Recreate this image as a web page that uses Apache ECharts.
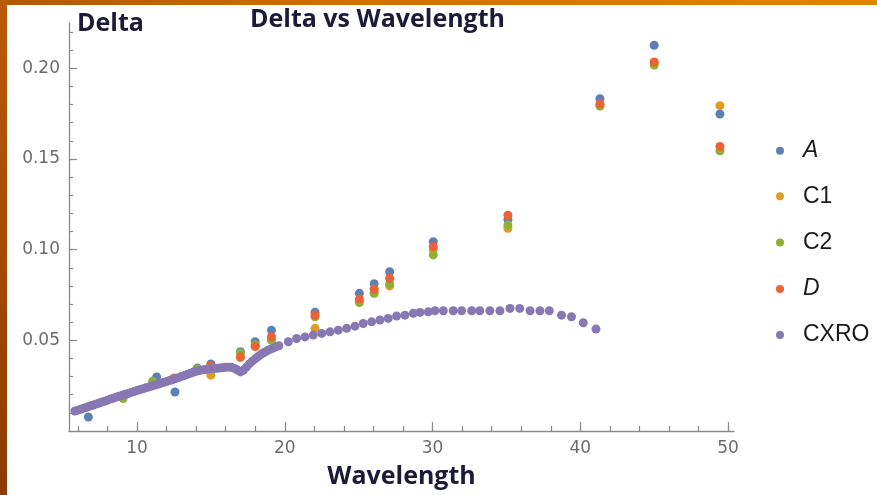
<!DOCTYPE html>
<html>
<head>
<meta charset="utf-8">
<title>Delta vs Wavelength</title>
<script src="https://cdn.jsdelivr.net/npm/echarts@6/dist/echarts.min.js"></script>
<style>
  html, body { margin: 0; padding: 0; background: #ffffff; overflow: hidden; }
  #chart { position: absolute; left: 0; top: 0; width: 877px; height: 495px; }
  .frame-top { position: absolute; left: 0; top: 0; width: 877px; height: 5px;
    background: linear-gradient(90deg, #b25806 0%, #cf7000 40%, #e28400 100%); }
  .frame-left { position: absolute; left: 0; top: 0; width: 7px; height: 495px;
    background: linear-gradient(180deg, #b85c08 0%, #a54b05 50%, #8c3b02 100%); }
</style>
</head>
<body>
<div id="chart"></div>
<div class="frame-top"></div>
<div class="frame-left"></div>
<script>
// Measured delta values per model, with their wavelengths
const aX  = [6.71, 11.33, 12.57, 14.08, 15.0, 17.0, 18.0, 19.1, 22.05, 25.05, 26.05, 27.1, 30.05, 35.1, 41.33, 45.0, 49.45];
const aY  = [0.0077, 0.0298, 0.0215, 0.0347, 0.0370, 0.0437, 0.0492, 0.0556, 0.0655, 0.0759, 0.0812, 0.0878, 0.1044, 0.1166, 0.1832, 0.2127, 0.1748];

const c1X = [12.5, 15.0, 17.0, 18.0, 19.1, 22.05, 25.05, 26.05, 27.1, 30.05, 35.1, 41.33, 45.0, 49.45];
const c1Y = [0.0292, 0.0308, 0.0405, 0.0470, 0.0505, 0.0566, 0.0715, 0.0762, 0.0800, 0.0998, 0.1118, 0.1798, 0.2030, 0.1794];

const c2X = [9.07, 11.06, 14.05, 15.0, 17.0, 18.0, 19.1, 22.05, 25.05, 26.05, 27.1, 30.05, 35.1, 41.33, 45.0, 49.45];
const c2Y = [0.0179, 0.0275, 0.0343, 0.0355, 0.0430, 0.0475, 0.0500, 0.0630, 0.0708, 0.0759, 0.0812, 0.0971, 0.1136, 0.1792, 0.2018, 0.1545];

const dX  = [12.5, 15.0, 17.0, 18.0, 19.1, 22.05, 25.05, 26.05, 27.1, 30.05, 35.1, 41.33, 45.0, 49.45];
const dY  = [0.0288, 0.0360, 0.0409, 0.0465, 0.0520, 0.0640, 0.0728, 0.0782, 0.0842, 0.1017, 0.1190, 0.1803, 0.2035, 0.1569];

// CXRO tabulated delta (fine steps below 20, coarser above)
const cxroX = [5.8, 6.0, 6.2, 6.4, 6.6, 6.8, 7.0, 7.2, 7.4, 7.6, 7.8, 8.0, 8.2, 8.4, 8.6, 8.8, 9.0, 9.2, 9.4, 9.6,
  9.8, 10.0, 10.2, 10.4, 10.6, 10.8, 11.0, 11.2, 11.4, 11.6, 11.8, 12.0, 12.2, 12.4, 12.6, 12.8, 13.0, 13.2, 13.4,
  13.6, 13.8, 14.0, 14.2, 14.4, 14.6, 14.8, 15.0, 15.2, 15.4, 15.6, 15.8, 16.0, 16.2, 16.4, 16.6, 16.8, 17.0, 17.2,
  17.4, 17.6, 17.8, 18.0, 18.2, 18.4, 18.6, 18.8, 19.0, 19.2, 19.4, 19.6,
  20.24, 20.8, 21.37, 21.93, 22.5, 23.06, 23.62, 24.19, 24.75, 25.31, 25.88, 26.44, 27.0,
  27.57, 28.13, 28.7, 29.15, 29.71, 30.16, 30.73, 31.4, 31.97, 32.65, 33.2, 33.88, 34.56, 35.24, 35.9, 36.6,
  37.27, 37.9, 38.73, 39.4, 40.2, 41.06];
const cxroY = [0.0110, 0.0115, 0.0120, 0.0126, 0.0131, 0.0137, 0.0142, 0.0148, 0.0153, 0.0159, 0.0164, 0.0170,
  0.0176, 0.0181, 0.0187, 0.0192, 0.0197, 0.0202, 0.0207, 0.0213, 0.0218, 0.0223, 0.0228, 0.0233, 0.0238, 0.0243,
  0.0248, 0.0253, 0.0258, 0.0263, 0.0268, 0.0273, 0.0278, 0.0283, 0.0289, 0.0294, 0.0300, 0.0306, 0.0312, 0.0318,
  0.0324, 0.0329, 0.0333, 0.0336, 0.0339, 0.0341, 0.0343, 0.0345, 0.0346, 0.0348, 0.0349, 0.0351, 0.0352, 0.0351,
  0.0345, 0.0336, 0.0326, 0.0335, 0.0352, 0.0370, 0.0385, 0.0398, 0.0411, 0.0423, 0.0433, 0.0442, 0.0450, 0.0457,
  0.0464, 0.0470,
  0.0492, 0.0510, 0.0519, 0.0529, 0.0538, 0.0547, 0.0556, 0.0566, 0.0578, 0.0593, 0.0602, 0.0612, 0.0621, 0.0634,
  0.0639, 0.0649, 0.0654, 0.0657, 0.0663, 0.0663, 0.0663, 0.0663, 0.0663, 0.0663, 0.0663, 0.0663, 0.0676, 0.0676,
  0.0663, 0.0663, 0.0663, 0.0639, 0.0630, 0.0597, 0.0562];

// Tick positions
const xMinorTicks = [6, 8, 10, 12, 14, 16, 18, 20, 22, 24, 26, 28, 30, 32, 34, 36, 38, 40, 42, 44, 46, 48, 50];
const xMajorTicks = [10, 20, 30, 40, 50];
const yMinorTicks = [0.01, 0.02, 0.03, 0.04, 0.05, 0.06, 0.07, 0.08, 0.09, 0.10, 0.11,
  0.12, 0.13, 0.14, 0.15, 0.16, 0.17, 0.18, 0.19, 0.20, 0.21, 0.22];
const yMajorTicks = [0.05, 0.10, 0.15, 0.20];

const seriesNames = ['A', 'C1', 'C2', 'D', 'CXRO'];
const seriesColors = ['#5E81B5', '#E19C24', '#8FB032', '#EB6235', '#8778B3'];
const italicNames = ['A', 'D'];

const pairs = (xs, ys) => xs.map((x, i) => [x, ys[i]]);
const seriesData = [pairs(aX, aY), pairs(c1X, c1Y), pairs(c2X, c2Y), pairs(dX, dY), pairs(cxroX, cxroY)];

const AXIS_COLOR = '#8a8a8a';
const TICK_FONT = { fontFamily: 'DejaVu Sans', fontSize: 17, color: '#6c6c6c' };
const HEAD_FONT = { fontFamily: 'Open Sans', fontWeight: 'bold', fontSize: 25, color: '#1b1b38' };
const X_RANGE = { min: 5.4, max: 50.4 };
const Y_RANGE = { min: 0, max: 0.225 };

const legendCenters = [150.7, 196.2, 242.6, 289.0, 335.0];

const chart = echarts.init(document.getElementById('chart'), null, { renderer: 'canvas' });

chart.setOption({
  animation: false,
  backgroundColor: '#ffffff',
  title: {
    text: 'Delta vs Wavelength',
    left: 250,
    top: 7,
    padding: 0,
    textStyle: HEAD_FONT
  },
  grid: { left: 69, right: 143, top: 23, bottom: 64, outerBoundsMode: 'none' },
  legend: seriesNames.map((name, i) => ({
    data: [{ name, textStyle: italicNames.includes(name) ? { fontStyle: 'italic' } : {} }],
    icon: 'circle',
    left: 776,
    top: legendCenters[i] - 12,
    padding: 0,
    itemWidth: 36,
    itemHeight: 8,
    selectedMode: false,
    textStyle: { fontFamily: 'Liberation Sans', fontSize: 23, lineHeight: 24, color: '#1a1a1a' }
  })),
  xAxis: [
    {
      type: 'value', ...X_RANGE, position: 'bottom',
      axisLine: { show: true, onZero: false, lineStyle: { color: AXIS_COLOR, width: 1.3 } },
      axisTick: { show: true, inside: true, length: 5, customValues: xMinorTicks, lineStyle: { color: AXIS_COLOR, width: 1.2 } },
      axisLabel: { show: false },
      splitLine: { show: false }
    },
    {
      type: 'value', ...X_RANGE, position: 'bottom',
      axisLine: { show: false },
      axisTick: { show: true, inside: true, length: 9, customValues: xMajorTicks, lineStyle: { color: AXIS_COLOR, width: 1.2 } },
      axisLabel: { show: true, customValues: xMajorTicks, margin: 9, ...TICK_FONT },
      splitLine: { show: false },
      name: 'Wavelength',
      nameLocation: 'middle',
      nameGap: 33,
      nameTextStyle: HEAD_FONT
    }
  ],
  yAxis: [
    {
      type: 'value', ...Y_RANGE, position: 'left',
      axisLine: { show: true, onZero: false, lineStyle: { color: AXIS_COLOR, width: 1.3 } },
      axisTick: { show: true, inside: true, length: 4, customValues: yMinorTicks, lineStyle: { color: AXIS_COLOR, width: 1.2 } },
      axisLabel: { show: false },
      splitLine: { show: false },
      name: 'Delta',
      nameLocation: 'end',
      nameGap: -1,
      nameTextStyle: { ...HEAD_FONT, align: 'left', verticalAlign: 'middle', padding: [0, 0, 0, 8] }
    },
    {
      type: 'value', ...Y_RANGE, position: 'left',
      axisLine: { show: false },
      axisTick: { show: true, inside: true, length: 8, customValues: yMajorTicks, lineStyle: { color: AXIS_COLOR, width: 1.2 } },
      axisLabel: { show: true, customValues: yMajorTicks, margin: 9, formatter: v => v.toFixed(2), ...TICK_FONT },
      splitLine: { show: false }
    }
  ],
  series: seriesNames.map((name, i) => ({
    name,
    type: 'scatter',
    xAxisIndex: 0,
    yAxisIndex: 0,
    symbol: 'circle',
    symbolSize: 9,
    itemStyle: { color: seriesColors[i], opacity: 1 },
    emphasis: { disabled: true },
    data: seriesData[i]
  }))
});
</script>
</body>
</html>
